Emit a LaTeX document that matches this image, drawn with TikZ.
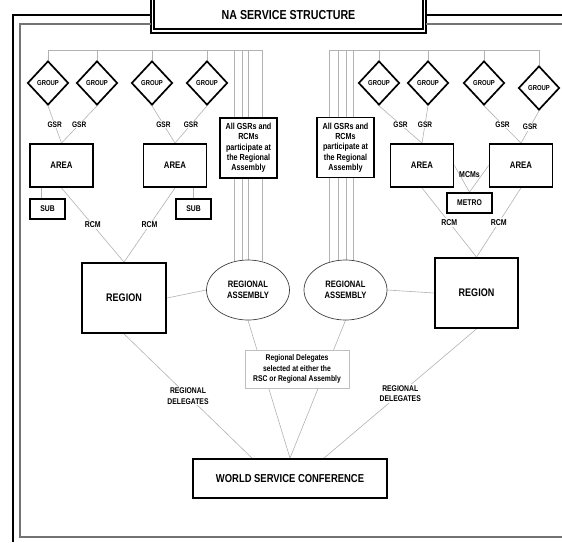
\documentclass[tikz,border=0pt]{standalone}
\usepackage{fontspec}
\setmainfont{Liberation Sans}[FakeStretch=0.82]
\usetikzlibrary{shapes.geometric,backgrounds}
\tikzset{
  outerline/.style={line width=2pt},
  innerline/.style={draw=black!55,line width=1.5pt},
  unitbox/.style={draw,line width=1.8pt,fill=white,inner sep=0pt,font=\bfseries\fontsize{9.5}{11}\selectfont},
  groupshape/.style={diamond,draw,line width=1.7pt,fill=white,minimum width=41pt,minimum height=44pt,inner sep=0pt,font=\bfseries\fontsize{7.2}{8}\selectfont},
  assemblyshape/.style={ellipse,draw=black!75,line width=0.7pt,fill=white,minimum width=83pt,minimum height=60pt,inner sep=0pt,align=center,font=\bfseries\fontsize{9.3}{11.5}\selectfont},
  notebox/.style={draw,line width=1.8pt,fill=white,align=center,inner sep=0pt,minimum width=57pt,minimum height=60pt,font=\bfseries\fontsize{8.8}{10.3}\selectfont},
  link/.style={draw=black!30,line width=0.6pt},
  linklabel/.style={fill=white,inner sep=1pt,font=\bfseries\fontsize{8}{10}\selectfont},
}

\begin{document}
\begin{tikzpicture}[x=1pt,y=-1pt]
    \useasboundingbox (0,0) rectangle (562,542);

    % frame and title
    \draw[outerline] (13,542) -- (13,15) -- (151,15);
    \draw[outerline] (151,0) -- (151,33) -- (426,33) -- (426,0);
    \draw[outerline] (426,15) -- (562,15);
    \draw[line width=1.2pt] (154,0) -- (154,29) -- (423,29) -- (423,0);
    \draw[innerline] (151,24) -- (20,24) -- (20,537) -- (562,537);
    \draw[innerline] (426,24) -- (562,24);
    \node[font=\bfseries\fontsize{13}{15}\selectfont] (T) at (288.5,15) {NA SERVICE STRUCTURE};

    % groups
    \node[groupshape] (G1) at (48,83) {GROUP};
    \node[groupshape] (G2) at (97,83) {GROUP};
    \node[groupshape] (G3) at (152,83) {GROUP};
    \node[groupshape] (G4) at (207,83) {GROUP};
    \node[groupshape] (G5) at (379,83) {GROUP};
    \node[groupshape] (G6) at (428,83) {GROUP};
    \node[groupshape] (G7) at (484,83) {GROUP};
    \node[groupshape] (G8) at (539,88) {GROUP};

    % areas, subs and metro
    \node[unitbox,minimum width=63pt,minimum height=43pt] (A1) at (61.5,165.5) {AREA};
    \node[unitbox,minimum width=63pt,minimum height=43pt] (A2) at (175,165.5) {AREA};
    \node[unitbox,minimum width=63pt,minimum height=43pt] (A3) at (422,165.5) {AREA};
    \node[unitbox,minimum width=63pt,minimum height=43pt] (A4) at (521,165.5) {AREA};
    \node[unitbox,minimum width=35pt,minimum height=20pt,font=\bfseries\fontsize{8.3}{10}\selectfont] (S1) at (47.5,209) {SUB};
    \node[unitbox,minimum width=35pt,minimum height=20pt,font=\bfseries\fontsize{8.3}{10}\selectfont] (S2) at (193.5,209) {SUB};
    \node[unitbox,minimum width=45pt,minimum height=20pt,font=\bfseries\fontsize{8.3}{10}\selectfont] (M) at (469.5,203) {METRO};
    \node[font=\bfseries\fontsize{8.5}{10}\selectfont] (MC) at (469.5,175) {MCMs};

    % notes
    \node[notebox] (N1) at (248.5,148) {All GSRs and\\RCMs\\participate at\\the Regional\\Assembly};
    \node[notebox] (N2) at (345.5,147.5) {All GSRs and\\RCMs\\participate at\\the Regional\\Assembly};

    % regions and assemblies
    \node[unitbox,minimum width=84pt,minimum height=70pt,font=\bfseries\fontsize{11}{13}\selectfont] (R1) at (124,298) {REGION};
    \node[unitbox,minimum width=83pt,minimum height=70pt,font=\bfseries\fontsize{11}{13}\selectfont] (R2) at (476.5,293) {REGION};
    \node[assemblyshape] (RA1) at (248,290) {REGIONAL\\ASSEMBLY};
    \node[assemblyshape] (RA2) at (345.5,290) {REGIONAL\\ASSEMBLY};

    % delegates and world
    \node[draw=black!25,line width=0.6pt,fill=white,align=center,inner sep=0pt,minimum width=104pt,minimum height=38pt,font=\bfseries\fontsize{8.3}{10.8}\selectfont] (D) at (297,369) {Regional Delegates\\selected at either the\\RSC or Regional Assembly};
    \node[unitbox,minimum width=194pt,minimum height=39pt,font=\bfseries\fontsize{11.5}{13}\selectfont] (W) at (290,478.5) {WORLD SERVICE CONFERENCE};

    \begin{pgfonlayer}{background}% lines go under the boxes
      \coordinate (LB) at (0,50);
      % left bus
      \draw[link] (G1.north) -- (G1.north |- LB) -- (RA1.64 |- LB) -- (RA1.64);
      \foreach \g in {G2,G3,G4} \draw[link] (\g.north) -- (\g.north |- LB);
      \foreach \a in {116,101,90} \draw[link] (RA1.\a) -- (RA1.\a |- LB);
      % right bus
      \draw[link] (G8.north) -- (G8.north |- LB) -- (RA2.120 |- LB) -- (RA2.120);
      \foreach \g in {G5,G6,G7} \draw[link] (\g.north) -- (\g.north |- LB);
      \foreach \a in {103,88,75} \draw[link] (RA2.\a) -- (RA2.\a |- LB);

      % GSR and RCM
      \foreach \g/\a in {G1/A1,G2/A1,G3/A2,G4/A2,G5/A3,G6/A3,G7/A4,G8/A4}
        \draw[link] (\g.south) -- node[linklabel] {GSR} (\a.north);
      \foreach \a/\r in {A1/R1,A2/R1,A3/R2,A4/R2}
        \draw[link] (\a.south) -- node[linklabel,font=\bfseries\fontsize{8.5}{10}\selectfont] {RCM} (\r.north);

      % subs and metro
      \draw[link] ([xshift=-20.5pt]A1.south) -- ([xshift=-6.5pt]S1.north);
      \draw[link] ([xshift=18.5pt]A2.south) -- (S2.north);
      \draw[link] (A3.east) -- (M.north);
      \draw[link] (A4.west) -- (M.north);

      % regions, assemblies and world
      \draw[link] (R1.east) -- (RA1.west);
      \draw[link] (RA2.east) -- (R2.west);
      \draw[link] (RA1.south) -- (W.north);
      \draw[link] (RA2.south) -- (W.north);
      \draw[link] (R1.south) -- node[linklabel,align=center,font=\bfseries\fontsize{8.3}{10.5}\selectfont] {REGIONAL\\DELEGATES} ([xshift=-38pt]W.north);
      \draw[link] (R2.south) -- node[linklabel,align=center,font=\bfseries\fontsize{8.3}{10.5}\selectfont] {REGIONAL\\DELEGATES} ([xshift=34pt]W.north);
    \end{pgfonlayer}
\end{tikzpicture}
\end{document}
